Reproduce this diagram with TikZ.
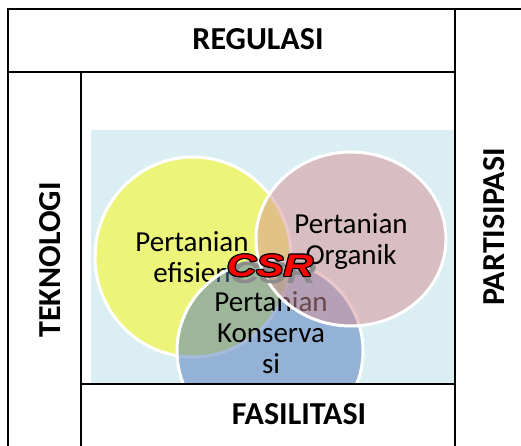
\documentclass[tikz,border=0pt]{standalone}
\usepackage{fontspec}
\setmainfont{Carlito}
\newfontfamily\csrfont{Liberation Sans}
\definecolor{bgblue}{HTML}{DBEEF3}
\definecolor{vennyellow}{HTML}{FDFC01}
\definecolor{vennpink}{HTML}{D79095}
\definecolor{vennblue}{HTML}{4F78BB}

\begin{document}
\begin{tikzpicture}[x=1pt, y=-1pt,
	frame/.style={draw=black, line width=1.3pt, fill=white},
	title/.style={font=\fontsize{32}{36}\selectfont\bfseries, inner sep=0pt},
	venn/.style={fill opacity=0.5, draw=white, line width=3pt},
	inside/.style={font=\fontsize{29}{31}\selectfont, align=center, inner sep=0pt},
	csr/.style={font=\fontsize{31}{33}\selectfont\csrfont\bfseries\itshape, xscale=1.32, inner sep=0pt}]
	\useasboundingbox (0,0) rectangle (521,446);
	\clip (0,0) rectangle (521,446);

	\fill[bgblue] (91,130) rectangle (455,384);

	\draw[venn, fill=vennyellow] (193,257) ellipse [x radius=98, y radius=100];
	\node[inside] (efisien) at (192,257) {Pertanian\\efisien};

	\draw[venn, fill=vennblue] (270,351) ellipse [x radius=93, y radius=91];
	\node[inside] (konservasi) at (271,333) {Pertanian\\Konserva\\si};

	\draw[venn, fill=vennpink] (351,239) ellipse [x radius=95, y radius=87];
	\node[inside] (organik) at (351,242) {Pertanian\\Organik};

	\node[csr, text=black!45] (csrshadow) at (273,273) {CSR};
	\foreach \dx/\dy [count=\i] in {1.3/0,-1.3/0,0/1.3,0/-1.3,0.9/0.9,-0.9/0.9,0.9/-0.9,-0.9/-0.9}
		\node[csr, text=black] (csredge\i) at (270+\dx,266+\dy) {CSR};
	\node[csr, text=red] (csr) at (270,266) {CSR};

	\draw[frame] (8,9) rectangle (455,72);
	\draw[frame] (455,9) rectangle (530,460);
	\draw[frame] (8,72) rectangle (81,460);
	\draw[frame] (81,384) rectangle (455,460);

	\node[title] (regulasi) at (258,39) {REGULASI};
	\node[title] (fasilitasi) at (299,414) {FASILITASI};
	\node[title, rotate=90] (teknologi) at (50,260) {TEKNOLOGI};
	\node[title, rotate=90] (partisipasi) at (494,227) {PARTISIPASI};
\end{tikzpicture}
\end{document}
